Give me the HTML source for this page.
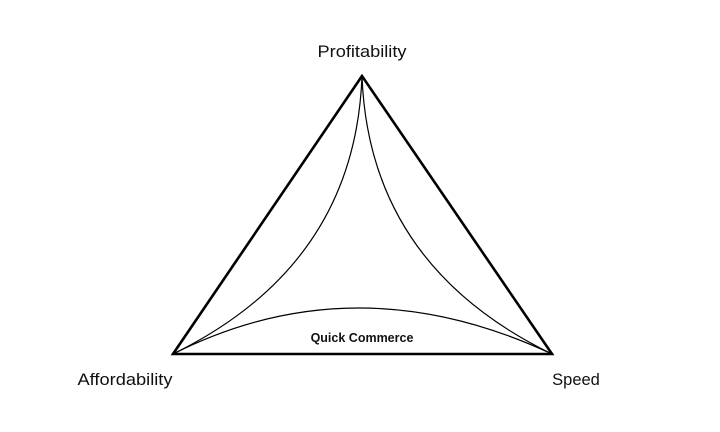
<!DOCTYPE html>
<html><head><style>
html,body{margin:0;padding:0;background:#fff;}
svg{display:block;}
text{font-family:"Liberation Sans",sans-serif;fill:#111;}
</style></head><body>
<svg width="720" height="432" viewBox="0 0 720 432" xmlns="http://www.w3.org/2000/svg">
<rect width="720" height="432" fill="#fff"/>
<polygon points="362,76 173,354 552,354" fill="none" stroke="#000" stroke-width="2.6" stroke-linejoin="miter"/>
<path d="M362,76 Q355,265 173,354" fill="none" stroke="#000" stroke-width="1.2"/>
<path d="M362,76 Q369,265 552,354" fill="none" stroke="#000" stroke-width="1.2"/>
<path d="M173,354 Q355,262 552,354" fill="none" stroke="#000" stroke-width="1.2"/>
<text x="362" y="57" font-size="17" font-weight="500" text-anchor="middle" textLength="89" lengthAdjust="spacingAndGlyphs">Profitability</text>
<text x="125" y="385" font-size="17" text-anchor="middle" textLength="95" lengthAdjust="spacingAndGlyphs">Affordability</text>
<text x="576" y="385" font-size="16.5" text-anchor="middle">Speed</text>
<text x="362" y="342" font-size="12.5" font-weight="bold" text-anchor="middle">Quick Commerce</text>
</svg>
</body></html>
